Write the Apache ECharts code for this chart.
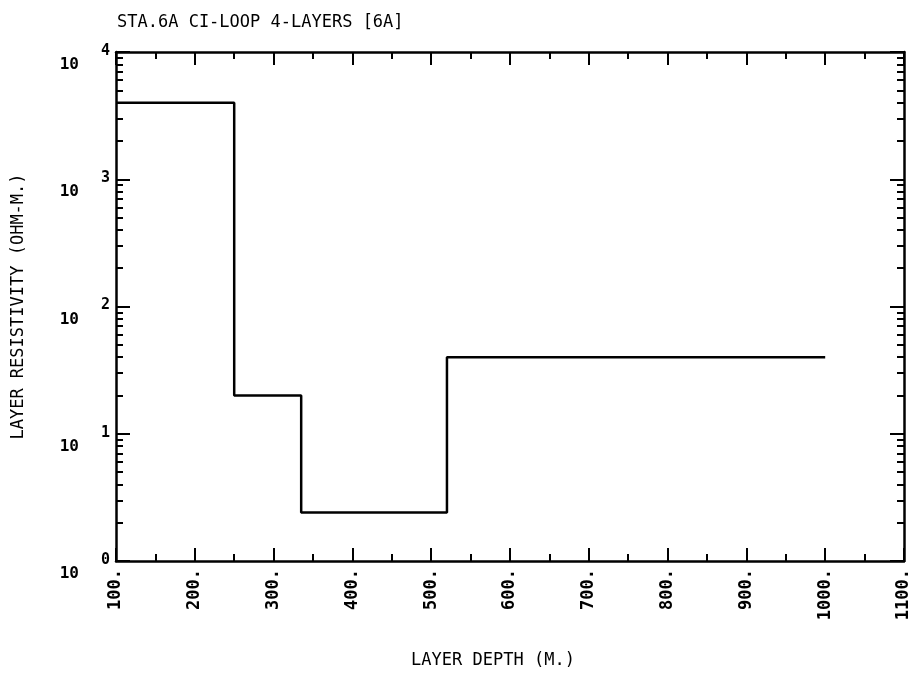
<!DOCTYPE html>
<html>
<head>
<meta charset="utf-8">
<script src="https://cdn.jsdelivr.net/npm/echarts@6/dist/echarts.min.js"></script>
<style>html,body{margin:0;padding:0;background:#fff}#c{width:911px;height:673px}</style>
</head>
<body>
<div id="c"></div>
<script>
var titleText = 'STA.6A CI-LOOP 4-LAYERS [6A]';
var xName = 'LAYER DEPTH (M.)';
var yName = 'LAYER RESISTIVITY (OHM-M.)';
// layer boundaries (m) and resistivity of each layer (ohm-m)
var depthBounds = [100, 250, 335, 520, 1000];
var resistivity = [4000, 20, 2.4, 40];
var xTicks = [100, 200, 300, 400, 500, 600, 700, 800, 900, 1000, 1100];
var yTicks = [1, 10, 100, 1000, 10000];

var stepData = [];
for (var i = 0; i < resistivity.length; i++) {
  stepData.push([depthBounds[i], resistivity[i]]);
  stepData.push([depthBounds[i + 1], resistivity[i]]);
}

var font = 'DejaVu Sans Mono';
var chart = echarts.init(document.getElementById('c'));
var axisLine = {show: true, lineStyle: {color: '#000', width: 2.5}};
var xCommon = {
  type: 'value', min: xTicks[0], max: xTicks[xTicks.length - 1], interval: 100,
  axisLine: axisLine,
  axisTick: {show: true, inside: true, length: 13, lineStyle: {color: '#000', width: 2}},
  minorTick: {show: true, splitNumber: 2, length: 7, lineStyle: {color: '#000', width: 2}},
  splitLine: {show: false}
};
var yCommon = {
  type: 'log', min: yTicks[0], max: yTicks[yTicks.length - 1], logBase: 10,
  axisLine: axisLine,
  axisTick: {show: true, inside: true, length: 14, lineStyle: {color: '#000', width: 2}},
  minorTick: {show: true, splitNumber: 9, length: 7, lineStyle: {color: '#000', width: 2}},
  splitLine: {show: false}
};
chart.setOption({
  animation: false,
  backgroundColor: '#fff',
  title: {
    text: titleText, left: 112, top: 9,
    textStyle: {fontFamily: font, fontSize: 17, fontWeight: 'normal', color: '#000'}
  },
  grid: {left: 116, right: 7, top: 52, bottom: 112, outerBoundsMode: 'none', containLabel: false},
  xAxis: [
    Object.assign({}, xCommon, {
      position: 'bottom',
      name: xName, nameLocation: 'middle', nameGap: 91,
      nameTextStyle: {fontFamily: font, fontSize: 17, color: '#000', padding: [0, 34, 0, 0]},
      axisLabel: {
        rotate: 90, margin: 8, color: '#000', fontFamily: font, fontSize: 17, fontWeight: 'bold',
        formatter: function (v) { return v + '.'; }
      }
    }),
    Object.assign({}, xCommon, {position: 'top', axisLabel: {show: false}})
  ],
  yAxis: [
    Object.assign({}, yCommon, {
      position: 'left',
      name: yName, nameLocation: 'middle', nameGap: 89,
      nameTextStyle: {fontFamily: font, fontSize: 17, color: '#000'},
      axisLabel: {
        margin: 6, color: '#000', fontFamily: font, fontWeight: 'bold',
        formatter: function (v) {
          var e = Math.round(Math.log(v) / Math.LN10);
          return '{b|10}{s| }{e|' + e + '}';
        },
        rich: {
          b: {fontFamily: font, fontSize: 16, fontWeight: 'bold', color: '#000', padding: [26, 0, 0, 0]},
          s: {fontFamily: font, fontSize: 15, width: 22},
          e: {fontFamily: font, fontSize: 15, fontWeight: 'bold', color: '#000', padding: [0, 0, 2, 0]}
        }
      }
    }),
    Object.assign({}, yCommon, {position: 'right', axisLabel: {show: false}})
  ],
  series: [{
    type: 'line',
    data: stepData,
    xAxisIndex: 0, yAxisIndex: 0,
    showSymbol: false,
    lineStyle: {color: '#000', width: 2.5},
    silent: true
  }]
});
</script>
</body>
</html>
